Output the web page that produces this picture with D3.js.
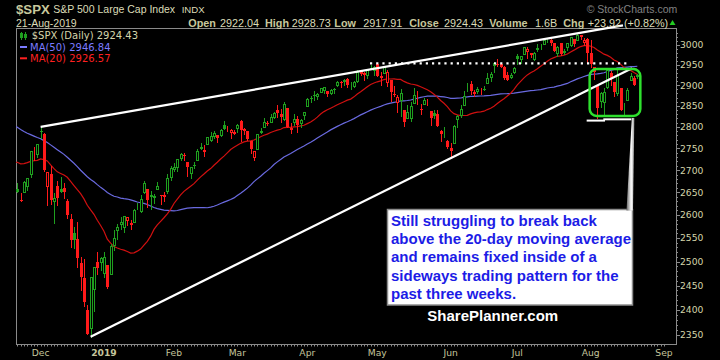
<!DOCTYPE html>
<html><head><meta charset="utf-8">
<script src="https://cdn.jsdelivr.net/npm/d3@7"></script>
<style>
html,body{margin:0;padding:0;background:#000;}
svg{display:block;}
</style></head><body>
<svg id="c" width="720" height="360"></svg>
<script>
// ---------- DATA ----------
// closes before the visible window (Sep 4 - Nov 20, 2018), used only for the moving averages
const preCloses = [
2896.72,2888.60,2878.05,2871.68,2877.13,2887.89,2888.92,2904.18,2904.98,2888.80,2904.31,2907.95,2930.75,2929.67,2919.37,2915.56,2905.97,2914.00,2913.98,
2924.59,2923.43,2925.51,2901.61,2885.57,2884.43,2880.34,2785.68,2728.37,2767.13,2750.79,2809.92,2809.21,2768.78,2767.78,2755.88,2740.69,2656.10,2705.57,2658.69,2641.25,2682.63,2711.74,
2740.37,2723.06,2738.31,2755.45,2813.89,2806.83,2781.01,2726.22,2722.18,2701.58,2730.20,2736.27,2690.73,2641.89];

const dates = [
"2018-11-21","2018-11-23","2018-11-26","2018-11-27","2018-11-28","2018-11-29","2018-11-30",
"2018-12-03","2018-12-04","2018-12-06","2018-12-07","2018-12-10","2018-12-11","2018-12-12","2018-12-13","2018-12-14","2018-12-17","2018-12-18","2018-12-19","2018-12-20","2018-12-21","2018-12-24","2018-12-26","2018-12-27","2018-12-28","2018-12-31",
"2019-01-02","2019-01-03","2019-01-04","2019-01-07","2019-01-08","2019-01-09","2019-01-10","2019-01-11","2019-01-14","2019-01-15","2019-01-16","2019-01-17","2019-01-18","2019-01-22","2019-01-23","2019-01-24","2019-01-25","2019-01-28","2019-01-29","2019-01-30","2019-01-31",
"2019-02-01","2019-02-04","2019-02-05","2019-02-06","2019-02-07","2019-02-08","2019-02-11","2019-02-12","2019-02-13","2019-02-14","2019-02-15","2019-02-19","2019-02-20","2019-02-21","2019-02-22","2019-02-25","2019-02-26","2019-02-27","2019-02-28",
"2019-03-01","2019-03-04","2019-03-05","2019-03-06","2019-03-07","2019-03-08","2019-03-11","2019-03-12","2019-03-13","2019-03-14","2019-03-15","2019-03-18","2019-03-19","2019-03-20","2019-03-21","2019-03-22","2019-03-25","2019-03-26","2019-03-27","2019-03-28","2019-03-29",
"2019-04-01","2019-04-02","2019-04-03","2019-04-04","2019-04-05","2019-04-08","2019-04-09","2019-04-10","2019-04-11","2019-04-12","2019-04-15","2019-04-16","2019-04-17","2019-04-18","2019-04-22","2019-04-23","2019-04-24","2019-04-25","2019-04-26","2019-04-29","2019-04-30",
"2019-05-01","2019-05-02","2019-05-03","2019-05-06","2019-05-07","2019-05-08","2019-05-09","2019-05-10","2019-05-13","2019-05-14","2019-05-15","2019-05-16","2019-05-17","2019-05-20","2019-05-21","2019-05-22","2019-05-23","2019-05-24","2019-05-28","2019-05-29","2019-05-30","2019-05-31",
"2019-06-03","2019-06-04","2019-06-05","2019-06-06","2019-06-07","2019-06-10","2019-06-11","2019-06-12","2019-06-13","2019-06-14","2019-06-17","2019-06-18","2019-06-19","2019-06-20","2019-06-21","2019-06-24","2019-06-25","2019-06-26","2019-06-27","2019-06-28",
"2019-07-01","2019-07-02","2019-07-03","2019-07-05","2019-07-08","2019-07-09","2019-07-10","2019-07-11","2019-07-12","2019-07-15","2019-07-16","2019-07-17","2019-07-18","2019-07-19","2019-07-22","2019-07-23","2019-07-24","2019-07-25","2019-07-26","2019-07-29","2019-07-30","2019-07-31",
"2019-08-01","2019-08-02","2019-08-05","2019-08-06","2019-08-07","2019-08-08","2019-08-09","2019-08-12","2019-08-13","2019-08-14","2019-08-15","2019-08-16","2019-08-19","2019-08-20","2019-08-21"];

const opens = [
2657.74,2633.36,2649.97,2663.75,2691.45,2736.97,2737.76,
2790.50,2782.43,2663.51,2691.26,2630.86,2664.44,2658.23,2658.70,2629.68,2590.75,2559.90,2547.05,2496.77,2465.38,2400.56,2363.12,2442.50,2498.77,2498.94,
2476.96,2491.92,2474.33,2535.61,2568.11,2580.00,2573.51,2588.11,2580.31,2585.10,2614.75,2609.28,2651.27,2657.88,2643.48,2638.84,2657.44,2644.97,2644.89,2653.62,2685.49,
2702.32,2706.49,2728.34,2735.05,2717.53,2692.36,2712.40,2722.61,2750.30,2743.50,2760.24,2769.28,2779.05,2780.67,2780.67,2804.35,2792.36,2787.50,2788.11,
2798.22,2814.37,2794.41,2790.27,2766.53,2730.79,2747.61,2787.34,2799.78,2810.38,2810.79,2822.61,2840.76,2831.34,2819.72,2844.52,2796.01,2812.66,2819.72,2809.40,2828.27,
2848.63,2868.24,2876.09,2873.99,2884.16,2888.46,2886.58,2881.37,2891.92,2900.86,2908.32,2912.26,2916.04,2904.81,2898.78,2909.99,2934.00,2928.99,2925.81,2940.58,2937.14,
2952.33,2922.16,2929.21,2908.89,2913.03,2879.61,2859.84,2863.10,2840.19,2820.12,2820.38,2855.80,2858.60,2841.94,2854.02,2856.06,2836.70,2832.41,2830.03,2790.25,2786.94,2766.15,
2751.53,2762.64,2818.09,2828.51,2852.87,2885.83,2903.27,2882.73,2886.24,2886.82,2889.75,2906.71,2920.55,2949.60,2952.71,2951.42,2945.78,2926.07,2919.66,2932.94,
2971.41,2964.66,2978.08,2984.25,2979.77,2965.52,2989.30,2999.62,3003.36,3017.80,3012.13,3005.10,2978.87,3004.26,2981.93,2994.74,2998.77,3016.26,3013.25,3024.47,3007.66,3016.22,
2980.32,2943.90,2898.07,2861.18,2858.65,2896.21,2930.51,2907.07,2880.72,2894.15,2846.20,2864.74,2913.48,2919.01,2922.04];

const highs = [
2670.73,2647.55,2674.35,2682.53,2744.00,2753.75,2760.88,
2800.18,2785.93,2696.15,2708.54,2647.51,2674.35,2685.44,2670.19,2635.07,2601.13,2573.99,2585.29,2509.63,2504.41,2410.34,2467.76,2489.10,2520.27,2509.24,
2519.49,2493.14,2538.07,2566.16,2579.82,2595.32,2597.82,2596.27,2589.32,2613.08,2625.76,2645.06,2675.47,2657.88,2653.19,2647.20,2672.38,2644.97,2650.93,2690.44,2708.95,
2716.66,2724.99,2738.98,2738.08,2719.32,2708.07,2718.05,2748.19,2761.85,2757.90,2775.66,2787.33,2789.88,2781.58,2794.20,2813.49,2803.12,2795.76,2793.73,
2808.02,2816.88,2796.44,2790.27,2767.25,2744.13,2784.00,2798.32,2821.24,2815.00,2830.73,2835.41,2852.42,2843.54,2860.31,2846.16,2809.79,2829.87,2825.56,2819.71,2836.03,
2869.40,2872.90,2885.25,2881.28,2893.24,2895.95,2886.88,2889.71,2893.42,2910.54,2909.60,2916.06,2918.00,2908.40,2909.51,2936.31,2936.83,2933.10,2939.88,2949.52,2948.22,
2954.13,2931.68,2947.85,2937.32,2913.03,2897.96,2875.97,2891.31,2840.19,2852.54,2858.68,2892.15,2885.48,2853.86,2868.88,2865.47,2836.70,2841.36,2840.51,2792.03,2799.00,2768.98,
2763.07,2804.49,2827.28,2852.10,2884.97,2904.77,2910.61,2888.57,2895.24,2894.45,2897.27,2930.79,2931.74,2958.06,2964.15,2954.92,2946.52,2932.59,2929.30,2943.98,
2977.93,2973.21,2995.84,2994.03,2980.76,2981.90,3002.98,3002.33,3013.92,3017.80,3015.02,3005.26,2998.28,3006.02,2990.71,3005.90,3019.59,3016.31,3027.98,3025.61,3017.19,3017.40,
3013.59,2945.50,2898.07,2884.40,2892.17,2938.72,2935.75,2907.58,2943.31,2894.15,2856.67,2893.63,2931.00,2923.63,2928.73];

const lows = [
2649.82,2631.09,2649.97,2655.89,2684.38,2722.94,2730.05,
2773.38,2697.18,2621.53,2623.14,2583.23,2621.30,2650.26,2637.27,2593.84,2530.54,2528.71,2488.96,2441.18,2408.55,2351.10,2346.58,2397.94,2472.89,2482.82,
2467.47,2443.96,2474.33,2524.56,2547.56,2568.89,2562.02,2577.40,2570.41,2585.10,2612.68,2606.36,2647.58,2617.27,2612.86,2627.01,2657.33,2624.06,2631.05,2648.34,2678.65,
2696.88,2698.75,2724.03,2724.15,2687.26,2681.83,2703.79,2722.61,2748.63,2731.23,2760.24,2767.29,2774.06,2764.55,2779.11,2794.99,2789.47,2775.13,2782.51,
2787.38,2767.66,2782.97,2768.69,2739.09,2722.27,2747.61,2786.73,2799.78,2803.46,2810.79,2821.99,2823.27,2812.43,2817.38,2800.47,2785.02,2803.99,2787.72,2798.77,2819.23,
2848.63,2858.75,2865.17,2867.14,2882.99,2880.78,2873.33,2879.13,2881.99,2898.37,2896.48,2900.71,2895.45,2891.90,2896.35,2908.53,2926.05,2912.84,2917.56,2939.35,2924.11,
2923.36,2900.50,2929.21,2898.21,2862.60,2873.28,2836.40,2825.39,2801.43,2820.12,2815.08,2855.80,2854.23,2831.29,2854.02,2851.11,2805.49,2820.19,2801.58,2766.06,2776.74,2750.52,
2728.81,2762.64,2800.92,2822.45,2852.87,2885.51,2878.53,2874.68,2881.99,2879.62,2887.30,2905.44,2911.43,2931.50,2946.87,2944.05,2916.01,2912.99,2918.57,2929.05,
2952.22,2955.92,2977.96,2967.97,2970.09,2963.44,2984.62,2988.80,3001.87,3008.77,3001.15,2984.25,2973.09,2975.86,2976.65,2988.56,2996.82,2997.24,3012.59,3014.48,3000.94,2958.08,
2945.23,2914.11,2822.12,2847.42,2825.71,2894.47,2900.15,2873.14,2877.05,2839.64,2825.51,2864.74,2913.48,2899.60,2917.91];

const closes = [
2649.93,2632.56,2673.45,2682.17,2743.79,2737.80,2760.17,
2790.37,2700.06,2695.95,2633.08,2637.72,2636.78,2651.07,2650.54,2599.95,2545.94,2546.16,2506.96,2467.42,2416.62,2351.10,2467.70,2488.83,2485.74,2506.85,
2510.03,2447.89,2531.94,2549.69,2574.41,2584.96,2596.64,2596.26,2582.61,2610.30,2616.10,2635.96,2670.71,2632.90,2638.70,2642.33,2664.76,2643.85,2640.00,2681.05,2704.10,
2706.53,2724.87,2737.70,2731.61,2706.05,2707.88,2709.80,2744.73,2753.03,2745.73,2775.60,2779.76,2784.70,2774.88,2792.67,2796.11,2793.90,2792.38,2784.49,
2803.69,2792.81,2789.65,2771.45,2748.93,2743.07,2783.30,2791.52,2810.92,2808.48,2822.48,2832.94,2832.57,2824.23,2854.88,2800.71,2798.36,2818.46,2805.37,2815.44,2834.40,
2867.19,2867.24,2873.40,2879.39,2892.74,2895.77,2878.20,2888.21,2888.32,2907.41,2905.58,2907.06,2900.45,2905.03,2907.97,2933.68,2927.25,2926.17,2939.88,2943.03,2945.83,
2923.73,2917.52,2945.64,2932.47,2884.05,2879.42,2870.72,2881.40,2811.87,2834.41,2850.96,2876.32,2859.53,2840.23,2864.36,2856.27,2822.24,2826.06,2802.39,2783.02,2788.86,2752.06,
2744.45,2803.27,2826.15,2843.49,2873.34,2886.73,2885.72,2879.84,2891.64,2886.98,2889.67,2917.75,2926.46,2954.18,2950.46,2945.35,2917.38,2913.78,2924.92,2941.76,
2964.33,2973.01,2995.82,2990.41,2975.95,2979.63,2993.07,2999.91,3013.77,3014.30,3004.04,2984.42,2995.11,2976.61,2985.03,3005.47,3019.56,3003.67,3025.86,3020.97,3013.18,2980.38,
2953.56,2932.05,2844.74,2881.77,2883.98,2938.09,2918.65,2882.70,2926.32,2840.60,2847.60,2888.68,2923.65,2900.51,2924.43];

// future trading days (axis only)
const futureDates = ["2019-08-22","2019-08-23","2019-08-26","2019-08-27","2019-08-28","2019-08-29","2019-08-30","2019-09-03"];
const monthStarts = ["2018-12-03","2019-01-02","2019-02-01","2019-03-01","2019-04-01","2019-05-01","2019-06-03","2019-07-01","2019-08-01","2019-09-03"];
const monthLabels = ["Dec","2019","Feb","Mar","Apr","May","Jun","Jul","Aug","Sep"];
const yTicks = [2350,2400,2450,2500,2550,2600,2650,2700,2750,2800,2850,2900,2950,3000];
const maPeriods = [50, 20];
const legendLabels = ["$SPX (Daily) 2924.43","MA(50) 2946.84","MA(20) 2926.57"];
const headerLabels = ["Open","High","Low","Close","Volume","Chg"];
const headerValues = ["2922.04","2928.73","2917.91","2924.43","1.6B","+23.92 (+0.82%)"];
const annotationLines = ["Still struggling to break back","above the 20-day moving average","and remains fixed inside of a","sideways trading pattern for the","past three weeks."];

// drawn annotations in (day index, price) terms
const upperTrend = [[7, 2800.18], [181.7, 3050]];
const lowerTrend = [[22, 2346.58], [184.4, 2942]];
const resistance = [[105.8, 2954], [183.8, 2954]];
const supports = [[[170.8, 2815], [176.3, 2815]], [[175.8, 2818], [184.2, 2818]]];
const boxIdx = [171.7, 186.9];
const boxPrice = [2826, 2940];

// ---------- LAYOUT ----------
const svg = d3.select("#c");
const F = {l:16, r:676, t:28.5, b:344.5};
const GREEN = "#1f9f1f", RED = "#ff1a1a", KHAKI = "#d4d4aa", GRAY = "#8a8a8a";
const x = d3.scaleLinear().domain([0, 194]).range([17.3, 664]);
const y = d3.scaleLog().domain([2350, 3000]).range([335, 45]);
const allDates = dates.concat(futureDates);

svg.append("rect").attr("width",720).attr("height",360).attr("fill","#000");
svg.append("defs").append("clipPath").attr("id","clip")
  .append("rect").attr("x",F.l).attr("y",F.t).attr("width",F.r-F.l).attr("height",F.b-F.t);

// frame
svg.append("rect").attr("x",F.l).attr("y",F.t).attr("width",F.r-F.l).attr("height",F.b-F.t)
  .attr("fill","none").attr("stroke",GRAY).attr("stroke-width",1).attr("shape-rendering","crispEdges");

// y axis ticks + labels
const yg = svg.append("g");
for (let v = 2350; v <= 3030; v += 10) {
  yg.append("line").attr("x1",F.r).attr("x2",F.r+2).attr("y1",Math.round(y(v))+0.5).attr("y2",Math.round(y(v))+0.5)
    .attr("stroke",GRAY).attr("stroke-width",1);
}
yTicks.forEach(v=>{
  yg.append("line").attr("x1",F.r).attr("x2",F.r+4).attr("y1",Math.round(y(v))+0.5).attr("y2",Math.round(y(v))+0.5)
    .attr("stroke",GRAY);
  yg.append("text").attr("x",680).attr("y",y(v)+3.4).attr("fill",KHAKI)
    .attr("font-family","DejaVu Sans").attr("font-size",9.2).text(v);
});

// x axis ticks + labels
const xg = svg.append("g");
allDates.forEach((d,i)=>{
  xg.append("line").attr("x1",Math.round(x(i))+0.5).attr("x2",Math.round(x(i))+0.5).attr("y1",F.b).attr("y2",F.b+2)
    .attr("stroke",GRAY);
});
monthStarts.forEach((d,k)=>{
  const i = allDates.indexOf(d);
  xg.append("text").attr("x",x(i)).attr("y",356).attr("text-anchor","middle").attr("fill","#c4c49c")
    .attr("font-family","DejaVu Sans").attr("font-size",9.2)
    .attr("font-weight", monthLabels[k]==="2019" ? "bold" : "normal").text(monthLabels[k]);
});

// plot group (clipped)
const pg = svg.append("g").attr("clip-path","url(#clip)");

// moving averages
const allC = preCloses.concat(closes);
const off = preCloses.length;
const maColors = ["#6a6ae0", "#d01010"];
maPeriods.forEach((p,k)=>{
  const pts = [];
  for (let i = -1; i < closes.length; i++) {
    const end = off + i;
    const s = d3.mean(allC.slice(end-p+1, end+1));
    pts.push([x(i), y(s)]);
  }
  pg.append("path").attr("d", d3.line()(pts)).attr("fill","none")
    .attr("stroke",maColors[k]).attr("stroke-width",1.2);
});

// candles
dates.forEach((d,i)=>{
  const prev = i===0 ? preCloses[preCloses.length-1] : closes[i-1];
  const col = closes[i] >= prev ? GREEN : RED;
  const hollow = closes[i] >= opens[i];
  const cx = Math.round(x(i));
  pg.append("line").attr("x1",cx+0.5).attr("x2",cx+0.5)
    .attr("y1",Math.round(y(highs[i]))).attr("y2",Math.round(y(lows[i]))+1)
    .attr("stroke",col).attr("stroke-width",1);
  const top = Math.round(y(Math.max(opens[i],closes[i])));
  const bot = Math.round(y(Math.min(opens[i],closes[i])));
  if (hollow) {
    pg.append("rect").attr("x",cx-0.5).attr("y",top+0.5).attr("width",2).attr("height",Math.max(bot-top,0))
      .attr("fill","#000").attr("stroke",col).attr("stroke-width",1);
  } else {
    pg.append("rect").attr("x",cx-1).attr("y",top).attr("width",3).attr("height",Math.max(bot-top,1))
      .attr("fill",col);
  }
});

// trend lines
const L = d3.line().x(p=>x(p[0])).y(p=>y(p[1]));
svg.append("path").attr("d",L(upperTrend)).attr("stroke","#fff").attr("stroke-width",2.2).attr("fill","none");
svg.append("path").attr("d",L(lowerTrend)).attr("stroke","#fff").attr("stroke-width",2.2).attr("fill","none");
svg.append("path").attr("d",L(resistance)).attr("stroke","#fff").attr("stroke-width",2.2)
  .attr("stroke-dasharray","2.2 4").attr("fill","none");
supports.forEach(s=>{
  svg.append("path").attr("d",L(s)).attr("stroke","#fff").attr("stroke-width",2).attr("fill","none");
});
// green consolidation box
svg.append("rect").attr("x",x(boxIdx[0])).attr("y",y(boxPrice[1]))
  .attr("width",x(boxIdx[1])-x(boxIdx[0])).attr("height",y(boxPrice[0])-y(boxPrice[1]))
  .attr("rx",7).attr("fill","none").attr("stroke","#2ee02e").attr("stroke-width",2.5);

// callout pointer + box
const grad = svg.select("defs").append("linearGradient").attr("id","pg").attr("x1","0").attr("x2","1").attr("y1","0").attr("y2","0");
grad.append("stop").attr("offset","0").attr("stop-color","#666");
grad.append("stop").attr("offset","0.6").attr("stop-color","#fff");
grad.append("stop").attr("offset","1").attr("stop-color","#999");
const bx = 387.5, by = 209.5, bw = 245, bh = 95.5;
svg.append("rect").attr("x",bx).attr("y",by).attr("width",bw).attr("height",bh)
  .attr("fill","#fff").attr("stroke","#8c8c8c").attr("stroke-width",1.5);
svg.append("polygon").attr("points",`${x(boxIdx[1])-8.5},118 ${x(boxIdx[1])-6},118 ${bx+bw+0.5},${by+1} ${bx+bw-6},${by+1}`)
  .attr("fill","url(#pg)");
annotationLines.forEach((t,k)=>{
  svg.append("text").attr("x",391).attr("y",226+k*18.2).attr("fill","#1c1ce6")
    .attr("font-family","Liberation Sans, Arial, sans-serif").attr("font-weight","bold").attr("font-size",15).text(t);
});
svg.append("text").attr("x",427.3).attr("y",321).attr("fill","#fff")
  .attr("font-family","Liberation Sans, Arial, sans-serif").attr("font-weight","bold").attr("font-size",15).text("SharePlanner.com");

// header
const HF = "Liberation Sans, Arial, sans-serif";
svg.append("text").attr("x",16).attr("y",14).attr("fill","#c8c89c").attr("font-family",HF)
  .attr("font-weight","bold").attr("font-size",13.2).text("$SPX");
svg.append("text").attr("x",53.3).attr("y",13.3).attr("fill","#dcdcb8").attr("font-family",HF)
  .attr("font-size",10.5).text("S&P 500 Large Cap Index");
svg.append("text").attr("x",181.7).attr("y",13.3).attr("fill","#dcdcb8").attr("font-family",HF)
  .attr("font-size",9.6).text("INDX");
svg.append("text").attr("x",16).attr("y",26.5).attr("fill","#dcdcb8").attr("font-family",HF)
  .attr("font-size",10.5).text("21-Aug-2019");
const labelX = [188.3,265,334.3,409.3,489.3,563.3];
const valueX = [220,291.7,363.3,444,535,587.7];
headerLabels.forEach((t,k)=>{
  svg.append("text").attr("x",labelX[k]).attr("y",26.5).attr("fill","#c8c89c").attr("font-family",HF)
    .attr("font-weight","bold").attr("font-size",10.8).text(t);
  svg.append("text").attr("x",valueX[k]).attr("y",26.5).attr("fill","#dcdcb8").attr("font-family",HF)
    .attr("font-size",10.8).text(headerValues[k]);
});
svg.append("polygon").attr("points","669.5,25 675.5,25 672.5,20").attr("fill","#22cc22");
svg.append("text").attr("x",586.7).attr("y",13.3).attr("fill","#808080").attr("font-family",HF)
  .attr("font-size",10.5).text("\u00A9 StockCharts.com");

// legend
const LF = "DejaVu Sans, Verdana, sans-serif";
const lg = svg.append("g");
// mini candles icon
lg.append("line").attr("x1",21.5).attr("x2",21.5).attr("y1",32).attr("y2",40).attr("stroke",GREEN);
lg.append("rect").attr("x",20.5).attr("y",33.5).attr("width",2).attr("height",4).attr("fill","none").attr("stroke",GREEN);
lg.append("line").attr("x1",25.5).attr("x2",25.5).attr("y1",32).attr("y2",40).attr("stroke",GREEN);
lg.append("rect").attr("x",24).attr("y",34).attr("width",3).attr("height",4).attr("fill",GREEN);
lg.append("text").attr("x",31.7).attr("y",39.4).attr("fill",KHAKI).attr("font-family",LF).attr("font-size",10).text(legendLabels[0]);
lg.append("line").attr("x1",20).attr("x2",27).attr("y1",47).attr("y2",47).attr("stroke","#7b7bff").attr("stroke-width",2);
lg.append("text").attr("x",30).attr("y",50.7).attr("fill","#7b7bff").attr("font-family",LF).attr("font-size",10).text(legendLabels[1]);
lg.append("line").attr("x1",20).attr("x2",27).attr("y1",58.3).attr("y2",58.3).attr("stroke","#ff2020").attr("stroke-width",2);
lg.append("text").attr("x",30).attr("y",62).attr("fill","#ff2020").attr("font-family",LF).attr("font-size",10).text(legendLabels[2]);
</script>
</body></html>
